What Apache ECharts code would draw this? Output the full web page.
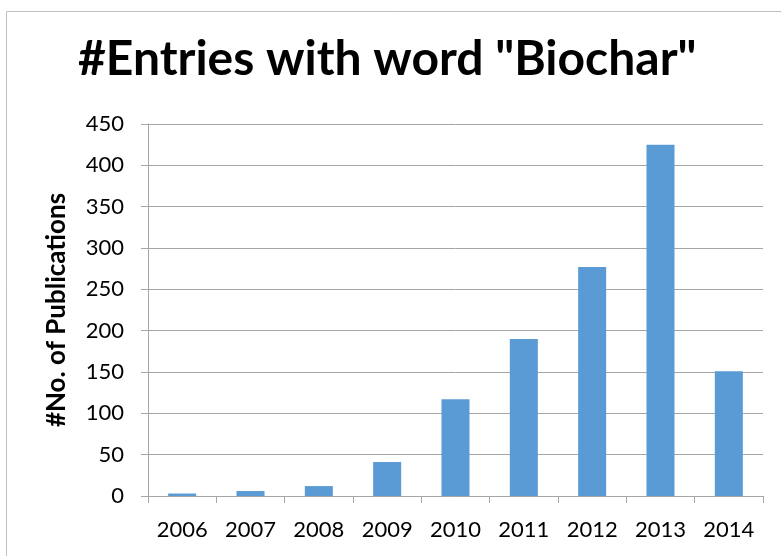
<!DOCTYPE html>
<html>
<head>
<meta charset="utf-8">
<script src="https://cdn.jsdelivr.net/npm/echarts@6/dist/echarts.min.js"></script>
<style>
  html, body { margin: 0; padding: 0; background: #fff; }
  #chart { width: 781px; height: 556px; }
</style>
</head>
<body>
<div id="chart"></div>
<script>
// Publication counts per year
const years = ['2006', '2007', '2008', '2009', '2010', '2011', '2012', '2013', '2014'];
const counts = [3, 6, 12, 41, 117, 190, 277, 425, 151];
const yTicks = { min: 0, max: 450, step: 50 };

const FONT = 'Lato, "Open Sans", sans-serif';
const chart = echarts.init(document.getElementById('chart'), null, { renderer: 'canvas' });

chart.setOption({
  animation: false,
  backgroundColor: '#ffffff',
  title: {
    text: '#Entries with word "Biochar"',
    left: 73,
    top: 31,
    textStyle: { fontFamily: FONT, fontWeight: 'bold', fontSize: 48, color: '#000' }
  },
  graphic: [{
    type: 'rect',
    shape: { x: 6.5, y: 11.5, width: 800, height: 600 },
    style: { fill: 'none', stroke: '#BFBFBF', lineWidth: 1 },
    silent: true
  }],
  grid: { left: 148, right: 18, top: 124, bottom: 60 },
  xAxis: {
    type: 'category',
    data: years,
    axisLine: { lineStyle: { color: '#A6A6A6', width: 1 } },
    axisTick: { show: true, length: 7, alignWithLabel: false, lineStyle: { color: '#A6A6A6' } },
    axisLabel: { color: '#000', fontFamily: FONT, fontSize: 22, margin: 23 }
  },
  yAxis: {
    type: 'value',
    min: yTicks.min,
    max: yTicks.max,
    interval: yTicks.step,
    name: '#No. of Publications',
    nameLocation: 'middle',
    nameGap: 78,
    nameTextStyle: { fontFamily: FONT, fontWeight: 'bold', fontSize: 26, color: '#000' },
    axisLine: { show: true, lineStyle: { color: '#A6A6A6', width: 1 } },
    axisTick: { show: true, length: 7, lineStyle: { color: '#A6A6A6' } },
    splitLine: { show: true, lineStyle: { color: '#A6A6A6', width: 1 } },
    axisLabel: { color: '#000', fontFamily: FONT, fontSize: 22, margin: 24 }
  },
  series: [{
    type: 'bar',
    data: counts,
    barCategoryGap: '59%',
    itemStyle: { color: '#5B9BD5' }
  }]
});
</script>
</body>
</html>
